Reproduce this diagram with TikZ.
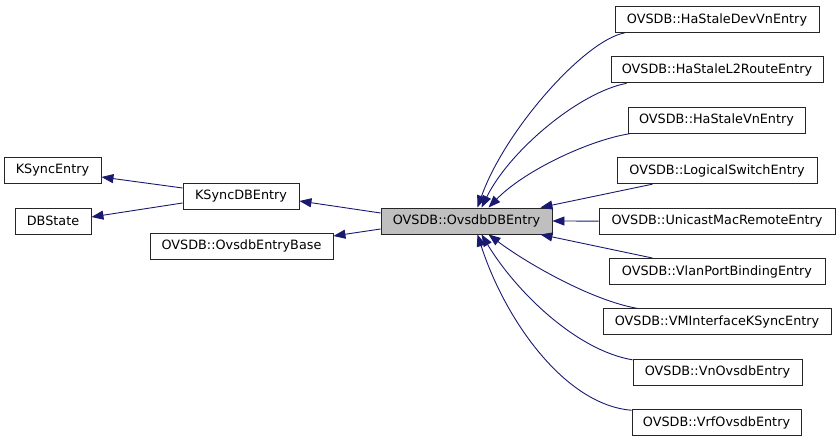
\documentclass[tikz,border=0pt]{standalone}
\usepackage{fontspec}
\setmainfont{DejaVu Sans}
\usetikzlibrary{arrows.meta}
\definecolor{edgeblue}{HTML}{191970}
\definecolor{boxgray}{HTML}{BFBFBF}
\begin{document}
\begin{tikzpicture}[x=1bp,y=-1bp,
  box/.style={draw=black!85, line width=0.9bp, fill=white, inner sep=0pt, minimum height=26bp,
    font=\fontsize{12.8bp}{15bp}\selectfont, text=black},
  edge/.style={draw=edgeblue, line width=0.9bp, -{Triangle[length=12bp,width=9bp]}, edgeblue}]
\useasboundingbox (0,0) rectangle (840,443);
% left side
\node[box, minimum width=97bp] (kse) at (52.5,170) {KSyncEntry};
\node[box, minimum width=76bp] (dbs) at (53,221) {DBState};
\node[box, minimum width=116bp] (ksdb) at (241,196) {KSyncDBEntry};
\node[box, minimum width=183bp] (oeb) at (241.5,246) {OVSDB::OvsdbEntryBase};
\node[box, minimum width=171bp, fill=boxgray] (odb) at (466.5,221) {OVSDB::OvsdbDBEntry};
% right column
\node[box, minimum width=204bp] (hsdv) at (717,19.5) {OVSDB::HaStaleDevVnEntry};
\node[box, minimum width=212bp] (hl2) at (717,69.9) {OVSDB::HaStaleL2RouteEntry};
\node[box, minimum width=177bp] (hsv) at (716.5,120.3) {OVSDB::HaStaleVnEntry};
\node[box, minimum width=200bp] (lse) at (717,170.7) {OVSDB::LogicalSwitchEntry};
\node[box, minimum width=236bp] (umr) at (717,221.1) {OVSDB::UnicastMacRemoteEntry};
\node[box, minimum width=216bp] (vpb) at (717,271.5) {OVSDB::VlanPortBindingEntry};
\node[box, minimum width=228bp] (vmi) at (717,321.9) {OVSDB::VMInterfaceKSyncEntry};
\node[box, minimum width=169bp] (vno) at (717.5,372.3) {OVSDB::VnOvsdbEntry};
\node[box, minimum width=169bp] (vrf) at (716.5,422.7) {OVSDB::VrfOvsdbEntry};
% left edges
\draw[edge] ([yshift=8bp]ksdb.west) -- ([yshift=-7bp]kse.east);
\draw[edge] ([yshift=-7bp]ksdb.west) -- ([yshift=4bp]dbs.east);
\draw[edge] ([yshift=8bp]odb.west) -- ([yshift=-5bp]ksdb.east);
\draw[edge] ([yshift=-8bp]odb.west) -- ([yshift=10bp]oeb.east);
% right edges
\draw[edge] ([xshift=10bp]hsdv.south west) .. controls (585,40) and (505,130) .. ([xshift=11bp]odb.north);
\draw[edge] ([xshift=16bp]hl2.south west) .. controls (580,92) and (510,150) .. ([xshift=15bp]odb.north);
\draw[edge] ([xshift=2bp]hsv.south west) .. controls (590,140) and (525,170) .. ([xshift=22bp]odb.north);
\draw[edge] ([xshift=36bp]lse.south west) -- ([xshift=-12bp]odb.north east);
\draw[edge] (umr.west) -- (odb.east);
\draw[edge] ([xshift=44bp]vpb.north west) -- ([xshift=-12bp]odb.south east);
\draw[edge] ([xshift=35bp]vmi.north west) .. controls (590,300) and (525,262) .. ([xshift=22bp]odb.south);
\draw[edge] ([yshift=-1bp]vno.north west) .. controls (575,350) and (515,290) .. ([xshift=15bp]odb.south);
\draw[edge] ([yshift=-1bp]vrf.north west) .. controls (565,405) and (505,320) .. ([xshift=11bp]odb.south);
\end{tikzpicture}
\end{document}
